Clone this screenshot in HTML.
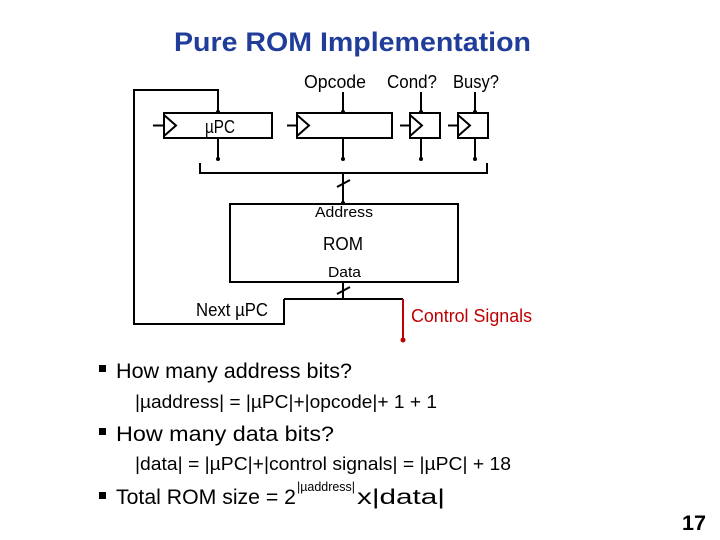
<!DOCTYPE html>
<html><head><style>
html,body{margin:0;padding:0;background:#fff;}
svg{display:block;font-family:"Liberation Sans",sans-serif;}
</style></head><body>
<svg width="720" height="540" viewBox="0 0 720 540" xmlns="http://www.w3.org/2000/svg">
<text x="174" y="51" font-size="27" font-weight="bold" fill="#1f3d99" textLength="357" lengthAdjust="spacingAndGlyphs">Pure ROM Implementation</text>
<g stroke="#000" stroke-width="2" fill="none">
<polyline points="284,299 284,324 134,324 134,90 218,90 218,111"/>
<rect x="164" y="113" width="108" height="25" fill="#fff"/>
<rect x="297" y="113" width="95" height="25" fill="#fff"/>
<rect x="410" y="113" width="30" height="25" fill="#fff"/>
<rect x="458" y="113" width="30" height="25" fill="#fff"/>
<polyline points="164,115 176,125.5 164,136"/>
<polyline points="297,115 309,125.5 297,136"/>
<polyline points="410,115 422,125.5 410,136"/>
<polyline points="458,115 470,125.5 458,136"/>
<line x1="153" y1="125.5" x2="164" y2="125.5"/>
<line x1="287" y1="125.5" x2="297" y2="125.5"/>
<line x1="400" y1="125.5" x2="410" y2="125.5"/>
<line x1="448" y1="125.5" x2="458" y2="125.5"/>
<line x1="343" y1="92" x2="343" y2="111"/>
<line x1="421" y1="92" x2="421" y2="111"/>
<line x1="475" y1="92" x2="475" y2="111"/>
<line x1="218" y1="138" x2="218" y2="158"/>
<line x1="343" y1="138" x2="343" y2="158"/>
<line x1="421" y1="138" x2="421" y2="158"/>
<line x1="475" y1="138" x2="475" y2="158"/>
<polyline points="200,163 200,173 487,173 487,163"/>
<line x1="343" y1="173" x2="343" y2="202"/>
<line x1="337" y1="187" x2="350" y2="180"/>
<rect x="230" y="204" width="228" height="78"/>
<line x1="343" y1="282" x2="343" y2="299"/>
<line x1="337" y1="294" x2="350" y2="287"/>
<line x1="284" y1="299" x2="403" y2="299"/>
</g>
<g fill="#000">
<circle cx="218" cy="112" r="2"/><circle cx="343" cy="112" r="2"/><circle cx="421" cy="112" r="2"/><circle cx="475" cy="112" r="2"/>
<circle cx="218" cy="159" r="2"/><circle cx="343" cy="159" r="2"/><circle cx="421" cy="159" r="2"/><circle cx="475" cy="159" r="2"/>
<circle cx="343" cy="203" r="2"/>
</g>
<line x1="403" y1="299" x2="403" y2="340" stroke="#c00000" stroke-width="2"/>
<circle cx="403" cy="340" r="2.5" fill="#c00000"/>
<g font-size="18" fill="#000">
<text x="304" y="88" textLength="62" lengthAdjust="spacingAndGlyphs">Opcode</text>
<text x="387" y="88" textLength="50" lengthAdjust="spacingAndGlyphs">Cond?</text>
<text x="453" y="88" textLength="46" lengthAdjust="spacingAndGlyphs">Busy?</text>
<text x="205" y="133" textLength="30" lengthAdjust="spacingAndGlyphs">µPC</text>
<text x="323" y="250" textLength="40" lengthAdjust="spacingAndGlyphs">ROM</text>
<text x="196" y="316" textLength="72" lengthAdjust="spacingAndGlyphs">Next µPC</text>
<text x="411" y="322" fill="#c00000" textLength="121" lengthAdjust="spacingAndGlyphs">Control Signals</text>
</g>
<g font-size="15">
<text x="315" y="217" textLength="58" lengthAdjust="spacingAndGlyphs">Address</text>
<text x="328" y="277" textLength="33" lengthAdjust="spacingAndGlyphs">Data</text>
</g>
<g fill="#000">
<rect x="99" y="365" width="7" height="7"/>
<rect x="99" y="428" width="7" height="7"/>
<rect x="99" y="492" width="7" height="7"/>
</g>
<g font-size="21">
<text x="116" y="378" textLength="236" lengthAdjust="spacingAndGlyphs">How many address bits?</text>
<text x="116" y="441" textLength="218" lengthAdjust="spacingAndGlyphs">How many data bits?</text>
<text x="116" y="504" textLength="180" lengthAdjust="spacingAndGlyphs">Total ROM size = 2</text>
<text x="357" y="504" textLength="88" lengthAdjust="spacingAndGlyphs">x|data|</text>
</g>
<text x="297" y="491" font-size="13" textLength="58" lengthAdjust="spacingAndGlyphs">|µaddress|</text>
<g font-size="18">
<text x="135" y="408" textLength="302" lengthAdjust="spacingAndGlyphs">|µaddress| = |µPC|+|opcode|+ 1 + 1</text>
<text x="135" y="470" textLength="376" lengthAdjust="spacingAndGlyphs">|data| = |µPC|+|control signals| = |µPC| + 18</text>
</g>
<text x="682" y="530" font-size="21" font-weight="bold" textLength="24" lengthAdjust="spacingAndGlyphs">17</text>
</svg>
</body></html>
